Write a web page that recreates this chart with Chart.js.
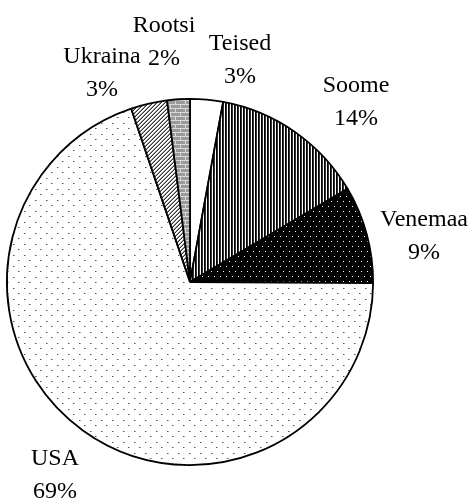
<!DOCTYPE html>
<html>
<head>
<meta charset="utf-8">
<script src="https://cdn.jsdelivr.net/npm/chart.js@4/dist/chart.umd.min.js"></script>
<style>
  html, body { margin: 0; padding: 0; background: #fff; }
  #wrap { width: 474px; height: 499px; }
</style>
</head>
<body>
<div id="wrap"><canvas id="myChart" width="474" height="499"></canvas></div>
<script>
// data
const countries = ['Teised', 'Soome', 'Venemaa', 'USA', 'Ukraina', 'Rootsi'];
const shares = [2.9, 13.6, 8.6, 69.7, 3.2, 2.0];
const shareLabels = ['3%', '14%', '9%', '69%', '3%', '2%'];

// where the label text sits: [centre x, baseline of first line]
const labelPos = {
  Teised: [240, 50],
  Soome: [356, 92],
  Venemaa: [424, 226],
  USA: [55, 465],
  Ukraina: [102, 63],
  Rootsi: [164, 32]
};

function makeTile(w, h, draw) {
  const c = document.createElement('canvas');
  c.width = w;
  c.height = h;
  const ctx = c.getContext('2d');
  draw(ctx);
  return document.createElement('canvas').getContext('2d').createPattern(c, 'repeat');
}

// white, nothing
const plainWhite = '#ffffff';

// vertical stripes
const stripes = makeTile(3, 3, function (ctx) {
  ctx.fillStyle = '#ffffff';
  ctx.fillRect(0, 0, 3, 3);
  ctx.fillStyle = '#000000';
  ctx.fillRect(0, 0, 1, 3);
  ctx.fillStyle = '#333333';
  ctx.fillRect(1, 0, 1, 3);
});

// black with white dots
const blackDots = makeTile(6, 10, function (ctx) {
  ctx.fillStyle = '#000000';
  ctx.fillRect(0, 0, 6, 10);
  ctx.fillStyle = '#ffffff';
  ctx.fillRect(1, 1, 1, 1);
  ctx.fillRect(4, 6, 1, 1);
});

// white with sparse grey dots
const whiteDots = makeTile(11, 11, function (ctx) {
  ctx.fillStyle = '#ffffff';
  ctx.fillRect(0, 0, 11, 11);
  ctx.fillStyle = '#555555';
  ctx.fillRect(2, 2, 1, 1);
  ctx.fillRect(7, 7, 1, 1);
  ctx.fillStyle = '#aaaaaa';
  ctx.fillRect(3, 2, 1, 1);
  ctx.fillRect(8, 7, 1, 1);
});

// diagonal hatch
const hatch = makeTile(4, 4, function (ctx) {
  ctx.fillStyle = '#ffffff';
  ctx.fillRect(0, 0, 4, 4);
  ctx.fillStyle = '#333333';
  ctx.fillRect(3, 0, 1, 1);
  ctx.fillRect(2, 1, 1, 1);
  ctx.fillRect(1, 2, 1, 1);
  ctx.fillRect(0, 3, 1, 1);
  ctx.fillStyle = '#999999';
  ctx.fillRect(2, 0, 1, 1);
  ctx.fillRect(1, 1, 1, 1);
  ctx.fillRect(0, 2, 1, 1);
  ctx.fillRect(3, 3, 1, 1);
});

// grey bricks
const bricks = makeTile(10, 8, function (ctx) {
  ctx.fillStyle = '#9a9a9a';
  ctx.fillRect(0, 0, 10, 8);
  ctx.fillStyle = '#d8d8d8';
  ctx.fillRect(0, 0, 10, 1);
  ctx.fillRect(0, 4, 10, 1);
  ctx.fillRect(0, 1, 1, 3);
  ctx.fillRect(5, 5, 1, 3);
});

const fills = [plainWhite, stripes, blackDots, whiteDots, hatch, bricks];

const labelPlugin = {
  id: 'sliceLabels',
  afterDraw: function (chart) {
    const ctx = chart.ctx;
    ctx.save();
    ctx.fillStyle = '#000';
    ctx.font = '24px "Liberation Serif", "Times New Roman", serif';
    ctx.textAlign = 'center';
    ctx.textBaseline = 'alphabetic';
    countries.forEach(function (name, i) {
      const p = labelPos[name];
      ctx.fillText(name, p[0], p[1]);
      ctx.fillText(shareLabels[i], p[0], p[1] + 33);
    });
    ctx.restore();
  }
};

const config = {
  type: 'pie',
  data: {
    labels: countries,
    datasets: [{
      data: shares,
      backgroundColor: fills,
      borderColor: '#000000',
      borderWidth: 1.8
    }]
  },
  options: {
    responsive: false,
    animation: false,
    layout: {
      padding: { left: 6, right: 100, top: 98, bottom: 33 }
    },
    plugins: {
      legend: { display: false },
      tooltip: { enabled: false }
    }
  },
  plugins: [labelPlugin]
};

const myChart = new Chart(document.getElementById('myChart'), config);
</script>
</body>
</html>
